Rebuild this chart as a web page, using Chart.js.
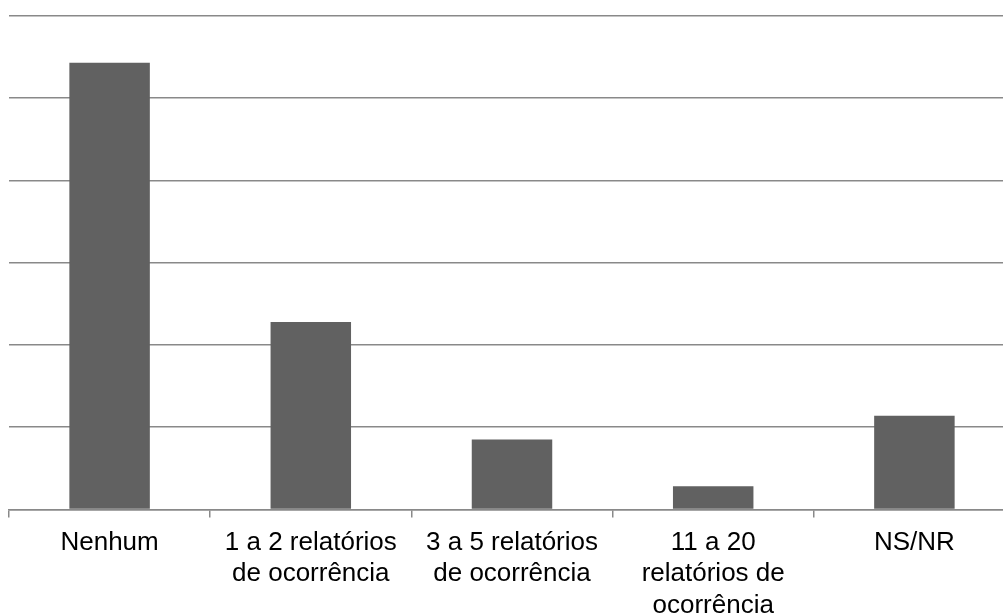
<!DOCTYPE html>
<html>
<head>
<meta charset="utf-8">
<script src="https://cdn.jsdelivr.net/npm/chart.js@4/dist/chart.umd.min.js"></script>
<style>
  html, body { margin: 0; padding: 0; background: #fff; overflow: hidden; }
  #wrap { width: 1003px; height: 615px; overflow: hidden; }
  canvas { display: block; }
</style>
</head>
<body>
<div id="wrap"><canvas id="chart" width="1016" height="631"></canvas></div>
<script>
// Categories (multi-line labels) and their shares, in percent
const categories = [
  'Nenhum',
  ['1 a 2 relatórios', 'de ocorrência'],
  ['3 a 5 relatórios', 'de ocorrência'],
  ['11 a 20', 'relatórios de', 'ocorrência'],
  'NS/NR'
];
const shares = [54.3, 22.8, 8.5, 2.8, 11.4];
const axisMax = 60;
const axisStep = 10;

const gridColor = '#898989';

new Chart(document.getElementById('chart'), {
  type: 'bar',
  data: {
    labels: categories,
    datasets: [{
      data: shares,
      backgroundColor: '#616161',
      borderWidth: 0,
      categoryPercentage: 1,
      barPercentage: 0.4
    }]
  },
  options: {
    responsive: false,
    animation: false,
    devicePixelRatio: 1,
    layout: { padding: { left: 9, right: 1, top: 16, bottom: 0 } },
    plugins: { legend: { display: false }, tooltip: { enabled: false } },
    scales: {
      x: {
        grid: {
          offset: true,
          drawOnChartArea: false,
          drawTicks: true,
          tickLength: 8,
          color: gridColor,
          lineWidth: 1.5
        },
        border: { display: true, color: gridColor, width: 1.5 },
        ticks: {
          autoSkip: false,
          maxRotation: 0,
          minRotation: 0,
          padding: 10,
          color: '#000',
          font: { family: '"Liberation Sans", Arial, sans-serif', size: 26, lineHeight: 1.2 }
        }
      },
      y: {
        min: 0,
        max: axisMax,
        ticks: { display: false, stepSize: axisStep },
        grid: { color: gridColor, lineWidth: 1.5, drawTicks: false },
        border: { display: false }
      }
    }
  }
});
</script>
</body>
</html>
